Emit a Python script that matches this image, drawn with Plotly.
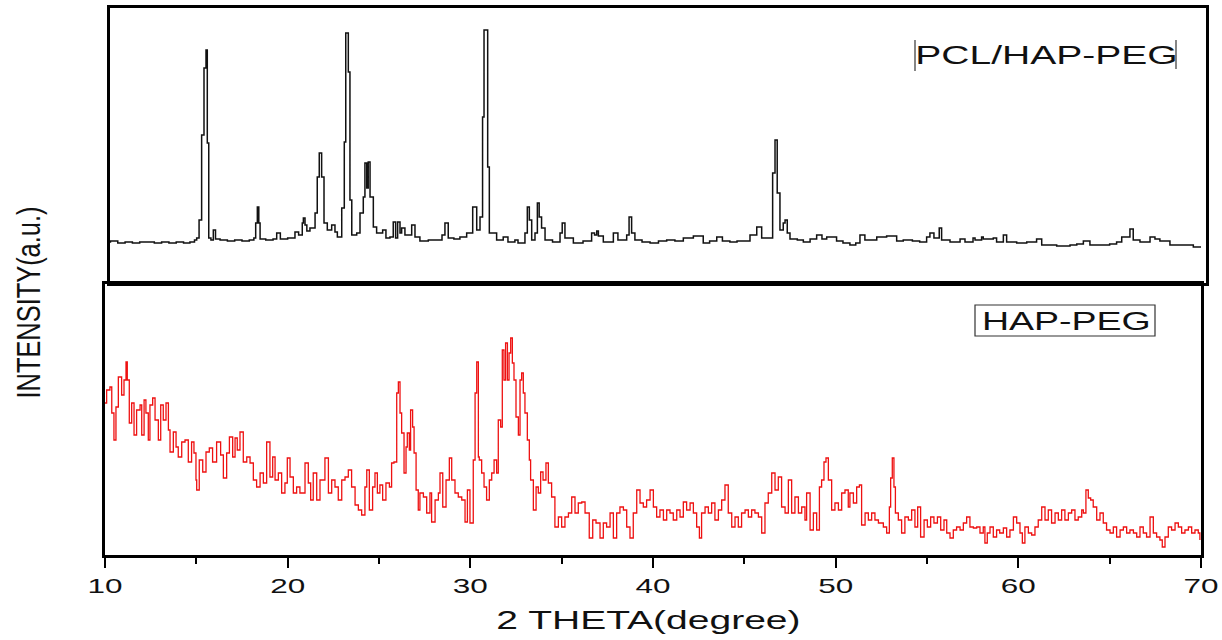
import plotly.graph_objects as go

# ---- PCL/HAP-PEG pattern (upper panel): 2-theta (deg) and intensity (a.u.)
pcl_theta = [10.00, 10.30, 10.70, 11.10, 11.50, 11.90, 12.30, 12.70, 13.10, 13.50, 13.90, 14.30, 14.65, 14.90,
             15.02, 15.15, 15.29, 15.42, 15.53, 15.60, 15.68, 15.80, 15.93, 16.05, 16.30, 16.70, 17.10, 17.50,
             17.90, 18.15, 18.25, 18.34, 18.42, 18.49, 18.80, 19.20, 19.40, 19.60, 20.00, 20.40, 20.60, 20.80,
             20.86, 20.95, 21.05, 21.22, 21.50, 21.62, 21.73, 21.86, 21.99, 22.17, 22.41, 22.59, 22.72, 22.96,
             23.10, 23.18, 23.32, 23.41, 23.51, 23.78, 23.96, 24.14, 24.23, 24.33, 24.41, 24.51, 24.69, 24.87,
             25.03, 25.20, 25.38, 25.60, 25.78, 25.91, 26.02, 26.15, 26.24, 26.42, 26.79, 26.97, 27.24, 27.70,
             28.16, 28.45, 28.61, 28.79, 29.10, 29.43, 29.80, 30.13, 30.35, 30.53, 30.67, 30.75, 30.90, 30.95,
             31.04, 31.44, 31.80, 32.06, 32.44, 32.61, 32.99, 33.12, 33.23, 33.36, 33.54, 33.67, 33.77, 33.90,
             34.09, 34.50, 34.91, 35.03, 35.18, 35.64, 36.17, 36.64, 36.80, 36.92, 37.01, 37.28, 37.83, 38.08,
             38.56, 38.69, 38.83, 39.01, 39.40, 39.84, 40.30, 40.75, 41.20, 41.66, 42.21, 42.75, 43.10, 43.49,
             43.80, 44.21, 44.60, 44.94, 45.31, 45.68, 45.95, 46.40, 46.55, 46.68, 46.80, 46.95, 47.13, 47.23,
             47.35, 47.50, 47.90, 48.23, 48.60, 48.96, 49.25, 49.51, 50.05, 50.40, 50.78, 51.10, 51.33, 51.60,
             52.25, 52.79, 53.34, 53.70, 54.20, 54.60, 54.98, 55.16, 55.38, 55.67, 55.80, 56.26, 56.81, 57.08,
             57.52, 57.63, 57.99, 58.08, 58.63, 58.81, 59.18, 59.36, 59.91, 60.46, 61.00, 61.28, 61.70, 62.10,
             62.83, 63.20, 63.56, 63.92, 64.65, 65.00, 65.38, 65.66, 65.93, 66.11, 66.29, 66.66, 66.93, 67.21,
             67.48, 67.75, 68.30, 69.01, 69.58, 70.00]
pcl_int = [41, 42, 40, 41, 40, 41, 41, 40, 41, 40, 41, 40, 41, 43,
           45, 63, 148, 215, 233, 140, 45, 43, 53, 44, 43, 42, 43, 42,
           43, 45, 60, 76, 60, 44, 43, 44, 50, 44, 45, 51, 48, 60,
           65, 58, 52, 55, 70, 106, 130, 106, 60, 53, 58, 51, 46, 75,
           141, 250, 211, 83, 48, 50, 70, 86, 120, 95, 121, 86, 56, 50,
           50, 53, 45, 46, 61, 45, 61, 50, 55, 48, 58, 46, 42, 43,
           43, 48, 60, 45, 44, 46, 50, 76, 53, 66, 166, 253, 253, 116,
           50, 43, 46, 41, 43, 40, 50, 76, 63, 43, 50, 80, 66, 55,
           43, 41, 50, 60, 45, 40, 42, 50, 48, 52, 47, 41, 50, 43,
           48, 66, 50, 43, 41, 40, 42, 43, 42, 45, 47, 40, 42, 46,
           42, 41, 42, 42, 48, 56, 45, 45, 110, 143, 90, 53, 60, 63,
           50, 44, 43, 41, 44, 48, 44, 46, 42, 40, 38, 40, 48, 43,
           46, 47, 42, 43, 42, 41, 46, 50, 45, 55, 43, 41, 44, 41,
           45, 43, 46, 44, 45, 41, 48, 41, 40, 41, 44, 38, 38, 37,
           38, 39, 42, 38, 38, 39, 41, 46, 46, 54, 43, 41, 41, 46,
           44, 42, 38, 38, 36, 36]

# ---- HAP-PEG pattern (lower panel)
hap_theta = [10.00, 10.09, 10.27, 10.37, 10.49, 10.60, 10.73, 10.91, 11.04, 11.15, 11.22, 11.33, 11.46, 11.59,
             11.73, 11.92, 12.01, 12.14, 12.24, 12.37, 12.46, 12.61, 12.74, 12.92, 13.05, 13.19, 13.34, 13.47,
             13.56, 13.74, 13.89, 14.01, 14.20, 14.38, 14.56, 14.74, 14.87, 14.98, 15.02, 15.16, 15.35, 15.53,
             15.71, 15.89, 16.11, 16.33, 16.48, 16.66, 16.81, 16.99, 17.12, 17.24, 17.39, 17.57, 17.76, 17.94,
             18.12, 18.30, 18.49, 18.67, 18.85, 19.03, 19.18, 19.31, 19.49, 19.67, 19.85, 19.98, 20.13, 20.31,
             20.49, 20.67, 20.95, 21.13, 21.26, 21.40, 21.59, 21.77, 22.04, 22.23, 22.41, 22.59, 22.77, 22.96,
             23.14, 23.32, 23.50, 23.69, 23.87, 24.05, 24.23, 24.33, 24.47, 24.65, 24.78, 24.91, 25.05, 25.20,
             25.38, 25.57, 25.69, 25.82, 25.97, 26.06, 26.15, 26.24, 26.37, 26.48, 26.55, 26.66, 26.73, 26.84,
             26.92, 27.03, 27.15, 27.24, 27.43, 27.61, 27.79, 27.88, 28.07, 28.25, 28.34, 28.49, 28.67, 28.85,
             28.98, 29.16, 29.34, 29.53, 29.71, 29.84, 29.98, 30.16, 30.26, 30.35, 30.44, 30.49, 30.62, 30.75,
             30.89, 31.04, 31.17, 31.30, 31.44, 31.53, 31.66, 31.75, 31.84, 31.93, 32.03, 32.12, 32.21, 32.30,
             32.39, 32.50, 32.63, 32.72, 32.81, 32.90, 32.99, 33.12, 33.23, 33.30, 33.45, 33.60, 33.72, 33.85,
             33.98, 34.14, 34.27, 34.45, 34.63, 34.82, 35.00, 35.18, 35.37, 35.55, 35.73, 35.91, 36.10, 36.28,
             36.51, 36.70, 36.88, 37.10, 37.28, 37.46, 37.65, 37.83, 38.01, 38.19, 38.38, 38.56, 38.74, 38.92,
             39.11, 39.29, 39.47, 39.65, 39.84, 40.02, 40.20, 40.38, 40.57, 40.75, 40.93, 41.11, 41.30, 41.48,
             41.66, 41.84, 42.03, 42.21, 42.39, 42.54, 42.66, 42.85, 43.03, 43.21, 43.39, 43.58, 43.76, 43.94,
             44.12, 44.31, 44.49, 44.67, 44.85, 45.04, 45.22, 45.40, 45.58, 45.77, 45.95, 46.13, 46.31, 46.50,
             46.68, 46.86, 47.04, 47.23, 47.41, 47.59, 47.77, 47.96, 48.14, 48.32, 48.41, 48.60, 48.78, 48.96,
             49.11, 49.23, 49.36, 49.47, 49.60, 49.78, 49.96, 50.15, 50.33, 50.51, 50.69, 50.78, 50.97, 51.15,
             51.30, 51.42, 51.61, 51.79, 51.97, 52.15, 52.34, 52.61, 52.79, 52.94, 53.01, 53.10, 53.19, 53.27,
             53.43, 53.61, 53.79, 53.98, 54.16, 54.34, 54.49, 54.65, 54.84, 55.02, 55.20, 55.38, 55.57, 55.75,
             55.93, 56.08, 56.26, 56.44, 56.62, 56.81, 56.99, 57.17, 57.35, 57.54, 57.72, 57.90, 58.08, 58.17,
             58.30, 58.45, 58.63, 58.81, 58.98, 59.18, 59.36, 59.54, 59.73, 59.91, 60.09, 60.22, 60.36, 60.55,
             60.73, 60.91, 61.09, 61.28, 61.46, 61.64, 61.82, 62.01, 62.19, 62.37, 62.55, 62.74, 62.92, 63.10,
             63.28, 63.47, 63.56, 63.70, 63.83, 63.96, 64.10, 64.29, 64.47, 64.65, 64.83, 65.02, 65.20, 65.38,
             65.57, 65.75, 65.93, 66.11, 66.30, 66.48, 66.66, 66.84, 67.02, 67.21, 67.39, 67.57, 67.75, 67.88,
             68.03, 68.21, 68.39, 68.58, 68.76, 68.94, 69.12, 69.31, 69.49, 69.67, 69.85, 69.94]
hap_int = [152, 165, 168, 142, 115, 148, 178, 160, 175, 193, 175, 132, 152, 120,
           145, 150, 120, 155, 142, 115, 150, 157, 135, 115, 150, 135, 152, 125,
           103, 123, 108, 98, 113, 115, 93, 113, 102, 75, 65, 95, 83, 103,
           107, 93, 113, 100, 77, 102, 118, 98, 117, 105, 123, 93, 98, 92,
           75, 68, 82, 72, 113, 78, 98, 75, 82, 62, 72, 97, 78, 62,
           68, 62, 92, 72, 55, 82, 55, 75, 97, 62, 75, 68, 55, 75,
           78, 85, 68, 50, 45, 40, 68, 85, 45, 68, 82, 62, 70, 55,
           72, 68, 92, 93, 162, 173, 142, 122, 82, 108, 122, 105, 145, 128,
           102, 65, 45, 62, 58, 42, 62, 33, 55, 62, 82, 48, 75, 97,
           75, 62, 58, 55, 33, 65, 32, 95, 162, 193, 98, 95, 82, 68,
           55, 75, 82, 95, 82, 135, 128, 205, 175, 212, 175, 202, 217, 192,
           175, 138, 120, 175, 182, 162, 142, 115, 95, 75, 45, 68, 62, 83,
           75, 92, 72, 58, 28, 38, 28, 38, 42, 58, 42, 52, 53, 42,
           17, 35, 32, 17, 32, 28, 42, 17, 42, 48, 45, 28, 17, 42,
           65, 52, 48, 55, 65, 48, 38, 45, 35, 45, 42, 35, 45, 38,
           53, 45, 52, 42, 28, 17, 42, 48, 42, 52, 35, 45, 55, 70,
           42, 28, 38, 28, 42, 45, 38, 45, 42, 38, 22, 52, 62, 82,
           65, 78, 48, 42, 75, 42, 58, 42, 48, 35, 62, 25, 42, 25,
           68, 75, 93, 97, 75, 45, 52, 45, 62, 65, 48, 62, 52, 68,
           70, 30, 42, 35, 42, 35, 32, 28, 22, 48, 77, 97, 68, 42,
           35, 22, 38, 35, 45, 28, 48, 18, 35, 28, 38, 32, 38, 25,
           35, 22, 17, 25, 28, 25, 32, 38, 28, 27, 28, 22, 28, 12,
           22, 28, 18, 25, 22, 27, 18, 25, 38, 32, 22, 12, 28, 22,
           20, 28, 35, 48, 35, 45, 32, 42, 35, 45, 35, 42, 45, 35,
           38, 45, 42, 65, 57, 55, 48, 35, 42, 32, 25, 22, 28, 18,
           25, 28, 22, 25, 22, 18, 28, 22, 18, 38, 22, 18, 15, 8,
           18, 28, 25, 32, 28, 22, 25, 28, 22, 25, 22, 15]

x_ticks = [10, 20, 30, 40, 50, 60, 70]
x_title = "2 THETA(degree)"
y_title = "INTENSITY(a.u.)"
label_top = "PCL/HAP-PEG"
label_bottom = "HAP-PEG"

W, H = 1222, 640
FONT = "Liberation Sans, Arial, sans-serif"


def px(v):
    return v / W


def py(v):
    return 1 - v / H


fig = go.Figure()
fig.add_trace(go.Scatter(x=hap_theta, y=hap_int, mode="lines", line_shape="hv",
                         line=dict(color="#ee1111", width=1.3),
                         xaxis="x", yaxis="y", showlegend=False, hoverinfo="skip"))
fig.add_trace(go.Scatter(x=pcl_theta, y=pcl_int, mode="lines", line_shape="hv",
                         line=dict(color="#111111", width=1.5),
                         xaxis="x2", yaxis="y2", showlegend=False, hoverinfo="skip"))

frame = dict(showline=True, linecolor="black", mirror=True, showgrid=False, zeroline=False,
             automargin=False)

fig.update_layout(
    width=W, height=H,
    margin=dict(l=0, r=0, t=0, b=0, pad=0),
    paper_bgcolor="white", plot_bgcolor="white",
    font=dict(family=FONT, color="black"),
    xaxis=dict(domain=[px(105), px(1201)], range=[10, 70], linewidth=2.5,
               ticks="outside", ticklen=10, tickwidth=2, tickcolor="black",
               tickvals=x_ticks, ticktext=[str(t) for t in x_ticks],
               tickfont=dict(size=21, family=FONT, color="#111"),
               minor=dict(ticks="outside", ticklen=6, tickwidth=2, tickcolor="black", dtick=5),
               anchor="y", **frame),
    yaxis=dict(domain=[py(555), py(284)], range=[0, 271], linewidth=2.5,
               showticklabels=False, ticks="", anchor="x", **frame),
    xaxis2=dict(domain=[px(110), px(1206)], range=[10.274, 70.274], linewidth=2.5,
                showticklabels=False, ticks="", anchor="y2", **frame),
    yaxis2=dict(domain=[py(283), py(8)], range=[0, 275], linewidth=2.5,
                showticklabels=False, ticks="", anchor="x2", **frame),
    shapes=[
        dict(type="line", xref="paper", yref="paper", x0=px(915), x1=px(915), y0=py(40), y1=py(71),
             line=dict(color="#444", width=1.3)),
        dict(type="line", xref="paper", yref="paper", x0=px(1176), x1=px(1176), y0=py(40), y1=py(69),
             line=dict(color="#444", width=1.3)),
        dict(type="rect", xref="paper", yref="paper", x0=px(975), x1=px(1155), y0=py(336), y1=py(305),
             line=dict(color="#333", width=1.2)),
    ],
    annotations=[
        dict(text=label_top, xref="paper", yref="paper", x=px(1046), y=py(55), showarrow=False,
             xanchor="center", yanchor="middle", font=dict(size=26, family=FONT, color="#111")),
        dict(text=label_bottom, xref="paper", yref="paper", x=px(1066), y=py(321), showarrow=False,
             xanchor="center", yanchor="middle", font=dict(size=25, family=FONT, color="#111")),
        dict(text=x_title, xref="paper", yref="paper", x=px(648), y=py(620), showarrow=False,
             xanchor="center", yanchor="middle", font=dict(size=26, family=FONT, color="#111")),
        dict(text=y_title, xref="paper", yref="paper", x=px(28), y=py(303), showarrow=False,
             textangle=-90, xanchor="center", yanchor="middle",
             font=dict(size=34, family=FONT, color="#111")),
    ],
)

# Lettering in this figure is set wide; widen each label along its baseline,
# while the rotated intensity label is fitted to its run length.
stretch_js = """
var wide = 1.5;
document.querySelectorAll('.xtick text, text.annotation-text').forEach(function (t) {
  var w = t.getComputedTextLength();
  var len = t.textContent.indexOf('INTENSITY') === 0 ? 192 : w * wide;
  t.setAttribute('textLength', len.toFixed(1));
  t.setAttribute('lengthAdjust', 'spacingAndGlyphs');
});
"""

fig.write_html("out.html", post_script=stretch_js)
